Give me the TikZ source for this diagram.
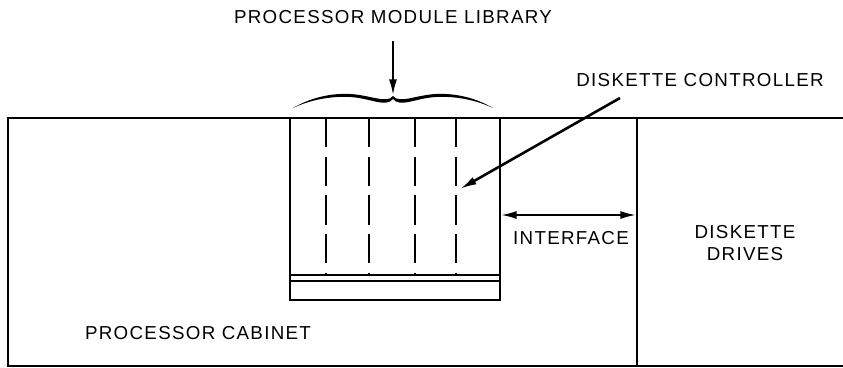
\documentclass[tikz,border=0pt]{standalone}
\usepackage{fontspec}
\setmainfont{Liberation Sans}[LetterSpace=7]
\usetikzlibrary{arrows.meta,positioning,calc}
\tikzset{
 wall/.style={line width=2.2pt},
 slot/.style={line width=1.8pt,dash pattern=on 25pt off 8pt},
 callout/.style={line width=2.2pt,-{Latex[length=0.5cm,width=0.24cm]}},
 lbl/.style={font=\fontsize{16}{19}\selectfont,inner sep=1pt}
}
\begin{document}
\begin{tikzpicture}[x=0.03cm,y=-0.03cm]
 \useasboundingbox (0,0) rectangle (843,368);
 % cabinets
 \draw[wall] (843,118) -- (8,118) -- (8,366) -- (843,366);
 \draw[wall] (637,118) -- (637,366);
 % module library
 \draw[wall] (290,118) -- (290,300) -- (500,300) -- (500,118);
 \draw[wall] (290,275) -- (500,275);
 \draw[wall] (290,281) -- (500,281);
 \foreach \x in {326,369,415,456}
  \draw[slot] (\x,118) -- (\x,275);
 % brace
 \fill (293,108) .. controls (310,98) and (330,93) .. (350,94)
  .. controls (370,95) and (387,104) .. (393,96)
  .. controls (399,104) and (416,95) .. (436,94)
  .. controls (456,93) and (476,98) .. (493,108)
  .. controls (476,100) and (456,96) .. (436,97)
  .. controls (416,98) and (400,108) .. (393,99)
  .. controls (386,108) and (370,98) .. (350,97)
  .. controls (330,96) and (310,100) .. cycle;
 \coordinate (tip) at (393,96);
 \coordinate (slotpt) at (460,189);
 \coordinate (ctrlend) at (620,98);
 \coordinate (ifl) at (500,215);
 \coordinate (ifr) at (637,215);
 % labels
 \node[lbl] (lib) at (393,17) {PROCESSOR MODULE LIBRARY};
 \node[lbl] (ctrl) at (700,80) {DISKETTE CONTROLLER};
 \node[lbl] (intf) at (571,238) {INTERFACE};
 \node[lbl,align=center] (drives) at (745,243) {DISKETTE\\DRIVES};
 \node[lbl] (cab) at (198,333) {PROCESSOR CABINET};
 % arrows
 \draw[callout] (lib.south) ++(0,16) -- (tip);
 \draw[callout] (ctrlend) -- (slotpt);
 \draw[callout,{Latex[length=0.5cm,width=0.24cm]}-{Latex[length=0.5cm,width=0.24cm]}] (ifl) -- (ifr);
\end{tikzpicture}
\end{document}
